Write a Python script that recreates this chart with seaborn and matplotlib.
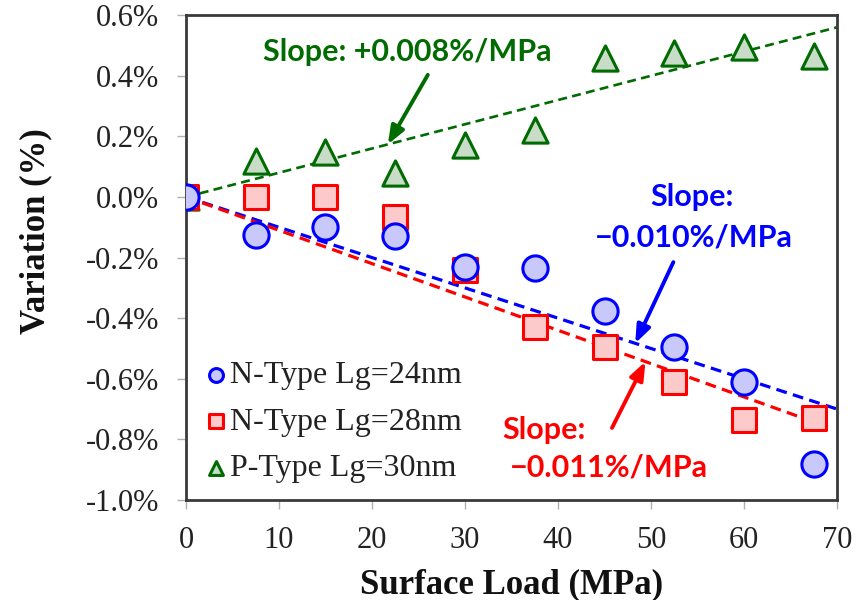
import numpy as np
import pandas as pd
import seaborn as sns
import matplotlib.pyplot as plt
from matplotlib.ticker import FuncFormatter, MultipleLocator

# Surface load steps (MPa)
load = [0, 7.5, 15, 22.5, 30, 37.5, 45, 52.5, 60, 67.5]

# Relative variation (%) for each device
n24 = [0.0, -0.125, -0.10, -0.13, -0.23, -0.235, -0.375, -0.495, -0.61, -0.88]
n28 = [0.0, 0.0, 0.0, -0.066, -0.24, -0.43, -0.495, -0.61, -0.735, -0.73]
p30 = [0.0, 0.12, 0.15, 0.08, 0.17, 0.22, 0.46, 0.475, 0.495, 0.465]

labels = ["N-Type Lg=24nm", "N-Type Lg=28nm", "P-Type Lg=30nm"]
slopes = [-0.010, -0.011, 0.008]          # %/MPa
fit_end = [70, 69, 70]                    # MPa

sns.set_theme(style="white")
plt.rcParams["font.family"] = ["Liberation Serif", "DejaVu Serif"]

edge = ["#0000ff", "#ff0000", "#006b00"]
face = ["#c8c8fa", "#fccaca", "#c8dcc8"]
marks = ["o", "s", "^"]

fig = plt.figure(figsize=(8.67, 6.0), dpi=100)
ax = fig.add_axes([0.2145, 0.1667, 0.751, 0.808])

series = [n24, n28, p30]

# dashed linear fits through the origin
for k in range(3):
    fx = np.array([0.0, fit_end[k]])
    fdf = pd.DataFrame({"x": fx, "y": slopes[k] * fx})
    sns.lineplot(data=fdf, x="x", y="y", ax=ax, color=edge[k],
                 linestyle=(0, (3.4, 2.0)), linewidth=2.3 if k < 2 else 1.9,
                 legend=False, zorder=2)

# measured points, drawn last series first so the N-type points sit on top
for k in [2, 1, 0]:
    df = pd.DataFrame({"x": load, "y": series[k]})
    sns.scatterplot(data=df, x="x", y="y", ax=ax, marker=marks[k],
                    s=330 if k != 1 else 300, color=face[k], edgecolor=edge[k],
                    linewidth=2.2, zorder=3, label=labels[k])

ax.set_xlim(0, 70)
ax.set_ylim(-1.0, 0.6)
ax.xaxis.set_major_locator(MultipleLocator(10))
ax.yaxis.set_major_locator(MultipleLocator(0.2))
ax.yaxis.set_major_formatter(FuncFormatter(lambda v, p: f"{v:.1f}%".replace("\u2212", "-")))

for s in ax.spines.values():
    s.set_color("#3a3a3a")
    s.set_linewidth(2.0)
ax.tick_params(axis="both", which="major", direction="out", length=6.5, width=1,
               color="#b0b0b0", labelsize=22, labelcolor="#222222",
               bottom=True, left=True)
ax.tick_params(axis="y", pad=13)
ax.tick_params(axis="x", pad=12)

ax.set_xlabel("Surface Load (MPa)", fontsize=25, fontweight="bold", color="#111111")
ax.set_ylabel("Variation (%)", fontsize=25, fontweight="bold", color="#111111")
ax.yaxis.set_label_coords(-0.205, 0.555)
ax.xaxis.set_label_coords(0.5, -0.14)

# legend with small markers, in original series order
h, l = ax.get_legend_handles_labels()
order = [labels.index(t) for t in l]
pairs = sorted(zip(order, h, l))
leg = ax.legend([p[1] for p in pairs], [p[2] for p in pairs], loc="lower left",
                bbox_to_anchor=(-0.018, -0.012), frameon=False, fontsize=23,
                handletextpad=-0.15, labelspacing=0.54, markerscale=0.55,
                borderaxespad=0.3, handlelength=1.2)
for t in leg.get_texts():
    t.set_color("#222222")

ann = dict(fontfamily=["Lato", "DejaVu Sans"], fontweight="bold", fontsize=22)
arrow = dict(arrowstyle="-|>,head_length=0.9,head_width=0.35", lw=2.8,
             shrinkA=0, shrinkB=0)

# green slope label and arrow
ax.text(23.8, 0.478, "Slope: +0.008%/MPa", color=edge[2], ha="center", va="center", **ann)
ax.annotate("", xy=(21.7, slopes[2] * 21.7), xytext=(26.0, 0.403),
            arrowprops=dict(color=edge[2], **arrow))

# blue slope label and arrow
ax.text(54.4, 0.0, "Slope:", color=edge[0], ha="center", va="center", **ann)
ax.text(54.6, -0.135, "\u22120.010%/MPa", color=edge[0], ha="center", va="center", **ann)
ax.annotate("", xy=(48.3, slopes[0] * 48.3), xytext=(52.4, -0.215),
            arrowprops=dict(color=edge[0], **arrow))

# red slope label and arrow
ax.text(34.0, -0.769, "Slope:", color=edge[1], ha="left", va="center", **ann)
ax.text(34.8, -0.894, "\u22120.011%/MPa", color=edge[1], ha="left", va="center", **ann)
ax.annotate("", xy=(49.4, slopes[1] * 49.4), xytext=(45.8, -0.762),
            arrowprops=dict(color=edge[1], **arrow))

fig.savefig("out.png", dpi=100, facecolor="white")
